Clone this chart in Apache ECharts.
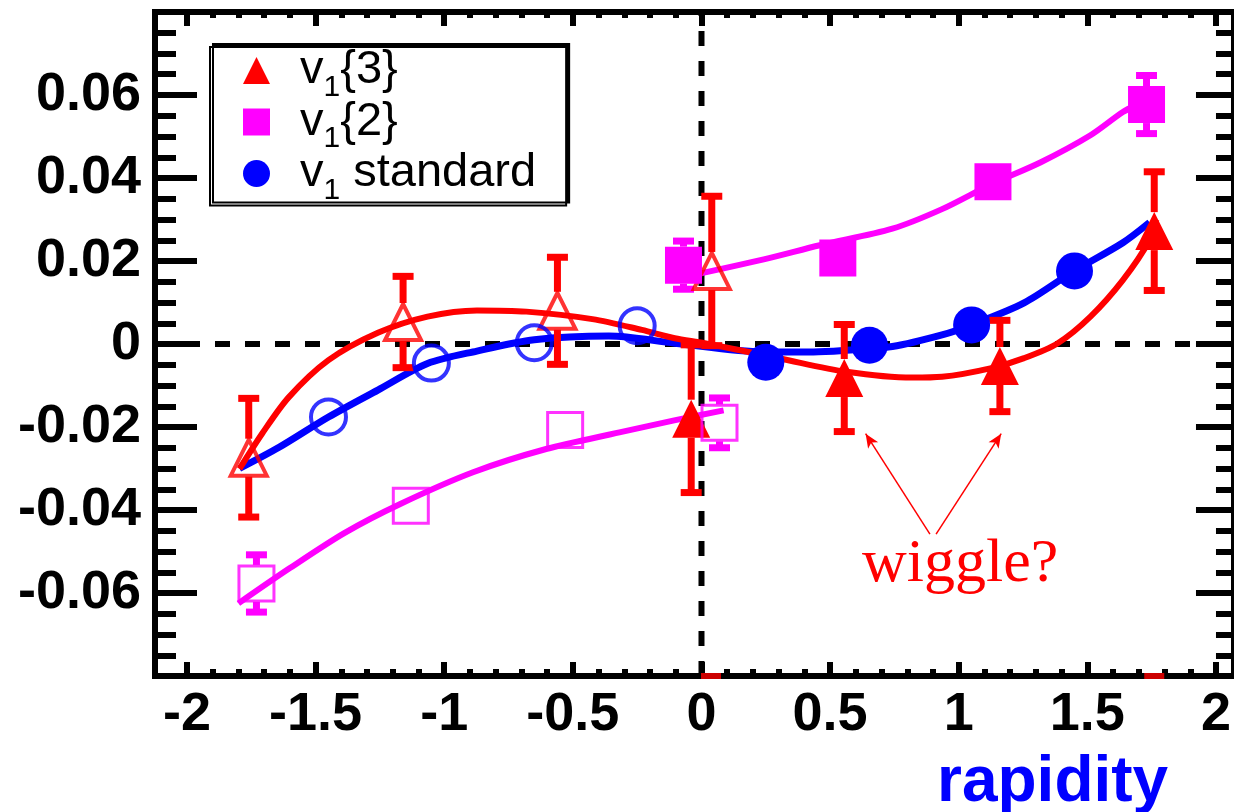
<!DOCTYPE html>
<html>
<head>
<meta charset="utf-8">
<title>v1 vs rapidity</title>
<script src="https://cdn.jsdelivr.net/npm/echarts@6/dist/echarts.min.js"></script>
<style>
  html, body { margin: 0; padding: 0; background: #fff; }
  #main { width: 1234px; height: 812px; }
</style>
</head>
<body>
<div id="main"></div>
<script>
// points: [rapidity, v1, error]
var v13Filled = [[-0.04, -0.0180, 0.0178], [0.555, -0.0082, 0.0129], [1.16, -0.0053, 0.0110], [1.76, 0.0272, 0.0143]];
var v13Open = [[-1.76, -0.0274, 0.0143], [-1.16, 0.0053, 0.0110], [-0.56, 0.0080, 0.0129], [0.04, 0.0176, 0.0180]];
var v12Filled = [[-0.07, 0.0190, 0.0058], [0.53, 0.0207, 0.003], [1.133, 0.0391, 0.003], [1.73, 0.0577, 0.0070]];
var v12Open = [[-1.73, -0.0577, 0.0069], [-1.13, -0.0390, 0.003], [-0.53, -0.0207, 0.003], [0.07, -0.0190, 0.0060]];
var stdFilled = [[0.25, -0.0044], [0.653, -0.0003], [1.05, 0.0046], [1.45, 0.0176]];
var stdOpen = [[-0.25, 0.0044], [-0.65, 0.0003], [-1.05, -0.0046], [-1.45, -0.0176]];

// fitted curves
var v13Fit = [[-1.796, -0.0301], [-1.707, -0.0215], [-1.604, -0.0128], [-1.45, -0.0039], [-1.258, 0.0027],
  [-1.065, 0.0066], [-0.873, 0.0081], [-0.681, 0.0078], [-0.424, 0.006], [-0.232, 0.0034], [-0.104, 0.0014],
  [0.012, 0.0002], [0.306, -0.0035], [0.563, -0.0067], [0.82, -0.0081], [0.935, -0.0079], [1.127, -0.0058],
  [1.254, -0.0034], [1.385, 0.0002], [1.512, 0.0066], [1.638, 0.0154], [1.742, 0.025], [1.768, 0.0299]];
var stdFit = [[-1.796, -0.030], [-1.642, -0.0249], [-1.45, -0.0176], [-1.258, -0.0111], [-1.065, -0.0047],
  [-0.873, -0.0017], [-0.65, 0.001], [-0.36, 0.0019], [-0.104, 0.0002], [0.24, -0.0019], [0.435, -0.0019],
  [0.563, -0.0015], [0.742, -0.0006], [0.935, 0.0022], [1.05, 0.0046], [1.254, 0.0099], [1.446, 0.0175],
  [1.638, 0.0244], [1.742, 0.0293]];
var v12FitNeg = [[-1.8, -0.0625], [-1.6, -0.054], [-1.387, -0.0455], [-1.173, -0.0386], [-0.888, -0.0309],
  [-0.604, -0.0253], [-0.319, -0.0213], [-0.106, -0.0184], [0.086, -0.016]];
var v12FitPos = [[-0.08, 0.016], [0.242, 0.0204], [0.46, 0.0238], [0.742, 0.0278], [0.935, 0.0325],
  [1.127, 0.0385], [1.319, 0.0438], [1.512, 0.0503], [1.638, 0.0559], [1.69, 0.0575]];

// annotation arrows [from, to]
var arrows = [[[0.888, -0.0458], [0.638, -0.0216]], [[0.912, -0.0458], [1.165, -0.0216]]];
// little red marks sitting on the x axis
var axisMarks = [[0.037, -0.08], [1.76, -0.08]];

var frameX = [-2.12, 2.08];
var xRange = [-2, 2];
var yRange = [-0.08, 0.08];

var legendNames = ['v1{3}', 'v1{2}', 'v1 standard'];
var legendText = {'v1{3}': 'v{s|1}{3}', 'v1{2}': 'v{s|1}{2}', 'v1 standard': 'v{s|1} standard'};

var RED = '#ff0000', MAG = '#ff00ff', BLUE = '#0000ff';
var labelFont = {fontFamily: 'Liberation Sans', fontWeight: 'bold', fontSize: 54, color: '#000'};

function errorBars(color, half) {
  return function (params, api) {
    var x = api.value(0), y = api.value(1), e = api.value(2);
    var c = api.coord([x, y]);
    var hi = api.coord([x, y + e]);
    var lo = api.coord([x, y - e]);
    var st = {fill: color};
    var kids = [];
    if (c[1] - hi[1] > half) {
      kids.push({type: 'rect', shape: {x: c[0] - 3.5, y: hi[1], width: 7, height: c[1] - half - hi[1]}, style: st});
      kids.push({type: 'rect', shape: {x: c[0] - 10.5, y: hi[1] - 3.5, width: 21, height: 7}, style: st});
    }
    if (lo[1] - c[1] > half) {
      kids.push({type: 'rect', shape: {x: c[0] - 3.5, y: c[1] + half, width: 7, height: lo[1] - c[1] - half}, style: st});
      kids.push({type: 'rect', shape: {x: c[0] - 10.5, y: lo[1] - 3.5, width: 21, height: 7}, style: st});
    }
    return {type: 'group', children: kids};
  };
}

function frameAxis(pos) {
  var isX = pos == 'top' || pos == 'bottom';
  return {
    type: 'value', gridIndex: 0, position: pos,
    min: isX ? frameX[0] : yRange[0],
    max: isX ? frameX[1] : yRange[1],
    axisLine: {show: true, onZero: false, lineStyle: {color: '#000', width: 6, cap: 'square'}},
    axisTick: {show: false}, axisLabel: {show: false}, splitLine: {show: false}
  };
}

function tickAxis(pos, major, minor, showLabel) {
  var isX = pos == 'top' || pos == 'bottom';
  return {
    type: 'value', gridIndex: 1, position: pos,
    min: isX ? xRange[0] : yRange[0],
    max: isX ? xRange[1] : yRange[1],
    interval: isX ? 0.5 : 0.02,
    offset: pos == 'left' ? 32 : (pos == 'right' ? 20 : 0),
    axisLine: {show: false, onZero: false},
    axisTick: {show: true, inside: true, length: major, lineStyle: {color: '#000', width: 6}},
    minorTick: {show: true, splitNumber: isX ? 5 : 4, length: minor, lineStyle: {color: '#000', width: 6}},
    axisLabel: Object.assign({show: showLabel, margin: isX ? 12 : 14, showMinLabel: isX, showMaxLabel: isX}, labelFont),
    splitLine: {show: false}
  };
}

var chart = echarts.init(document.getElementById('main'));
chart.setOption({
  animation: false,
  backgroundColor: '#fff',
  grid: [
    {left: 155, right: -13, top: 12, bottom: 136},
    {left: 187, right: 7, top: 12, bottom: 136}
  ],
  xAxis: [frameAxis('bottom'), frameAxis('top'), tickAxis('bottom', 14, 7, true), tickAxis('top', 14, 6, false)],
  yAxis: [frameAxis('left'), frameAxis('right'), tickAxis('left', 42, 21, true), tickAxis('right', 40, 20, false)],
  legend: {
    data: legendNames,
    orient: 'vertical',
    left: 210, top: 47,
    padding: [0, 30, 0, 33],
    itemWidth: 27, itemHeight: 27, itemGap: -4,
    backgroundColor: '#fff',
    borderColor: '#000', borderWidth: 2, borderRadius: 0,
    shadowColor: '#000', shadowBlur: 0, shadowOffsetX: 3, shadowOffsetY: -3,
    selectedMode: false,
    formatter: function (name) { return legendText[name]; },
    textStyle: {
      fontFamily: 'Liberation Sans', fontSize: 47, color: '#000', lineHeight: 40, padding: [0, 0, 0, 25],
      rich: {s: {fontFamily: 'Liberation Sans', fontSize: 30, lineHeight: 0, padding: [34, 0, 0, 0]}}
    }
  },
  graphic: [
    {type: 'text', left: 862, top: 534, z: 100,
      style: {text: 'wiggle?', font: '62px "Liberation Serif"', fill: RED}},
    {type: 'text', left: 937, top: 751, z: 100,
      style: {text: 'rapidity', font: 'bold 64px "Liberation Sans"', fill: BLUE}}
  ],
  series: [
    {type: 'line', xAxisIndex: 0, yAxisIndex: 0, data: [[frameX[0], 0], [frameX[1], 0]], symbol: 'none', silent: true,
      lineStyle: {color: '#000', width: 6, type: [15, 15]}, z: 1},
    {type: 'line', xAxisIndex: 2, yAxisIndex: 2, data: [[0, yRange[0]], [0, yRange[1]]], symbol: 'none', silent: true,
      lineStyle: {color: '#000', width: 6, type: [15, 15]}, z: 1},
    {type: 'line', xAxisIndex: 2, yAxisIndex: 2, data: v12FitNeg, smooth: 0.3, symbol: 'none', lineStyle: {color: MAG, width: 6}, z: 2},
    {type: 'line', xAxisIndex: 2, yAxisIndex: 2, data: v12FitPos, smooth: 0.3, symbol: 'none', lineStyle: {color: MAG, width: 6}, z: 2},
    {type: 'line', xAxisIndex: 2, yAxisIndex: 2, data: stdFit, smooth: 0.3, symbol: 'none', lineStyle: {color: BLUE, width: 7}, z: 2},
    {type: 'line', xAxisIndex: 2, yAxisIndex: 2, data: v13Fit, smooth: 0.3, symbol: 'none', lineStyle: {color: RED, width: 6}, z: 3},
    {type: 'custom', xAxisIndex: 2, yAxisIndex: 2, data: v13Filled.concat(v13Open), renderItem: errorBars(RED, 19), z: 4},
    {type: 'custom', xAxisIndex: 2, yAxisIndex: 2, data: v12Filled.concat(v12Open), renderItem: errorBars(MAG, 18.5), z: 4},
    {name: 'v1{3}', type: 'scatter', xAxisIndex: 2, yAxisIndex: 2, data: v13Filled, symbol: 'triangle', symbolSize: 38,
      itemStyle: {color: RED, opacity: 1}, z: 5,
      markLine: {
        silent: true, symbol: ['none', 'arrow'], symbolSize: [9, 14], label: {show: false},
        lineStyle: {color: RED, width: 1.5, type: 'solid'},
        data: arrows.map(function (a) { return [{coord: a[0]}, {coord: a[1]}]; })
      }},
    {name: 'v1{3} open', type: 'scatter', xAxisIndex: 2, yAxisIndex: 2, data: v13Open, symbol: 'triangle', symbolSize: 36,
      itemStyle: {color: 'rgba(0,0,0,0)', borderColor: RED, borderWidth: 4}, z: 5},
    {name: 'v1{2}', type: 'scatter', xAxisIndex: 2, yAxisIndex: 2, data: v12Filled, symbol: 'rect', symbolSize: 37,
      itemStyle: {color: MAG, opacity: 1}, z: 5},
    {name: 'v1{2} open', type: 'scatter', xAxisIndex: 2, yAxisIndex: 2, data: v12Open, symbol: 'rect', symbolSize: 35,
      itemStyle: {color: 'rgba(0,0,0,0)', borderColor: MAG, borderWidth: 3}, z: 5},
    {name: 'v1 standard', type: 'scatter', xAxisIndex: 2, yAxisIndex: 2, data: stdFilled, symbol: 'circle', symbolSize: 37,
      itemStyle: {color: BLUE, opacity: 1}, z: 5},
    {name: 'v1 standard open', type: 'scatter', xAxisIndex: 2, yAxisIndex: 2, data: stdOpen, symbol: 'circle', symbolSize: 35,
      itemStyle: {color: 'rgba(0,0,0,0)', borderColor: BLUE, borderWidth: 4}, z: 5},
    {type: 'scatter', xAxisIndex: 2, yAxisIndex: 2, data: axisMarks, symbol: 'rect', symbolSize: [20, 6],
      itemStyle: {color: RED}, silent: true, z: 10}
  ]
});
</script>
</body>
</html>
